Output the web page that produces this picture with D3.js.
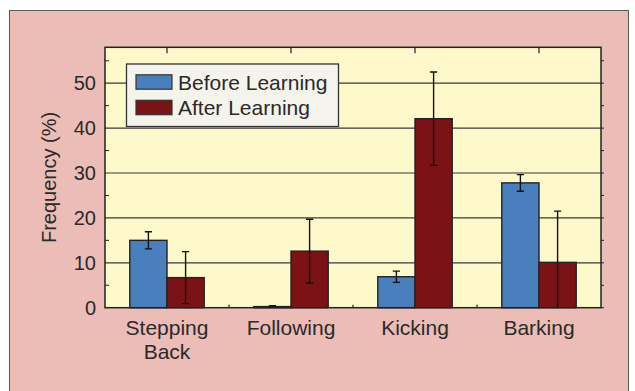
<!DOCTYPE html>
<html>
<head>
<meta charset="utf-8">
<script src="https://cdn.jsdelivr.net/npm/d3@7"></script>
<style>
  html, body { margin: 0; padding: 0; background: #ffffff; }
  svg { display: block; font-family: "Liberation Sans", Arial, Helvetica, sans-serif; }
</style>
</head>
<body>
<svg id="chart" width="635" height="391"></svg>
<script>
// Behaviour categories (label lines) and the two learning conditions
const categories = ["Stepping Back", "Following", "Kicking", "Barking"];
const categoryLines = [["Stepping", "Back"], ["Following"], ["Kicking"], ["Barking"]];
const seriesNames = ["Before Learning", "After Learning"];
const seriesColors = ["#4a7fbd", "#7b1316"];

// Frequency (%) with error half-widths
const beforeValues = [15.0, 0.25, 6.9, 27.8];
const beforeErrors = [1.9, 0.2, 1.25, 1.85];
const afterValues = [6.7, 12.6, 42.1, 10.1];
const afterErrors = [5.8, 7.1, 10.4, 11.4];

const yTicks = [0, 10, 20, 30, 40, 50];
const yMinorTicks = [5, 15, 25, 35, 45, 55];

const svg = d3.select("#chart");

// Outer panel
svg.append("rect")
  .attr("x", 9.5).attr("y", 10.5)
  .attr("width", 619).attr("height", 400)
  .attr("fill", "#ecbdb7")
  .attr("stroke", "#5a5a5a").attr("stroke-width", 1);

const plot = { left: 105, right: 601, top: 47.3, bottom: 307.7 };

const x = d3.scaleBand().domain(categories).range([plot.left, plot.right]).padding(0);
const y = d3.scaleLinear().domain([0, 58]).range([plot.bottom, plot.top]);
const barW = x.bandwidth() * 0.3;

// Plot background
svg.append("rect")
  .attr("x", plot.left).attr("y", plot.top)
  .attr("width", plot.right - plot.left).attr("height", plot.bottom - plot.top)
  .attr("fill", "#fef9cb");

// Horizontal gridlines
svg.append("g").selectAll("line")
  .data(yTicks.filter(d => d > 0))
  .join("line")
  .attr("x1", plot.left).attr("x2", plot.right)
  .attr("y1", d => y(d)).attr("y2", d => y(d))
  .attr("stroke", "#3a3a3a").attr("stroke-width", 1.2);

// Clip for the error bars
svg.append("clipPath").attr("id", "plotClip")
  .append("rect")
  .attr("x", plot.left).attr("y", plot.top)
  .attr("width", plot.right - plot.left).attr("height", plot.bottom - plot.top);

const series = [
  { values: beforeValues, errors: beforeErrors, offset: -1, color: seriesColors[0] },
  { values: afterValues, errors: afterErrors, offset: 0, color: seriesColors[1] }
];

const bars = svg.append("g");
series.forEach(s => {
  const rows = categories.map((c, i) => ({ c, v: s.values[i], e: s.errors[i] }));
  const cx = d => x(d.c) + x.bandwidth() / 2 + s.offset * barW;
  bars.append("g").selectAll("rect")
    .data(rows)
    .join("rect")
    .attr("x", d => cx(d))
    .attr("y", d => y(d.v))
    .attr("width", barW)
    .attr("height", d => y(0) - y(d.v))
    .attr("fill", s.color)
    .attr("stroke", "#222").attr("stroke-width", 1.4);

  const eb = bars.append("g").attr("clip-path", "url(#plotClip)");
  const mid = d => cx(d) + barW / 2;
  eb.selectAll("line.stem")
    .data(rows).join("line").attr("class", "stem")
    .attr("x1", mid).attr("x2", mid)
    .attr("y1", d => y(d.v + d.e)).attr("y2", d => y(d.v - d.e))
    .attr("stroke", "#111").attr("stroke-width", 1.4);
  eb.selectAll("line.capTop")
    .data(rows).join("line").attr("class", "capTop")
    .attr("x1", d => mid(d) - 3.6).attr("x2", d => mid(d) + 3.6)
    .attr("y1", d => y(d.v + d.e)).attr("y2", d => y(d.v + d.e))
    .attr("stroke", "#111").attr("stroke-width", 1.4);
  eb.selectAll("line.capBot")
    .data(rows.filter(d => d.v - d.e >= 0)).join("line").attr("class", "capBot")
    .attr("x1", d => mid(d) - 3.6).attr("x2", d => mid(d) + 3.6)
    .attr("y1", d => y(d.v - d.e)).attr("y2", d => y(d.v - d.e))
    .attr("stroke", "#111").attr("stroke-width", 1.4);
});

// Frame around plot area
svg.append("rect")
  .attr("x", plot.left).attr("y", plot.top)
  .attr("width", plot.right - plot.left).attr("height", plot.bottom - plot.top)
  .attr("fill", "none").attr("stroke", "#222").attr("stroke-width", 1.5);

// Left axis: labels, inward minor ticks
const left = svg.append("g");
left.selectAll("text")
  .data(yTicks).join("text")
  .attr("x", plot.left - 9).attr("y", d => y(d))
  .attr("dy", "0.36em")
  .attr("text-anchor", "end")
  .attr("font-size", 20).attr("fill", "#2a2a2a")
  .text(d => d);
left.selectAll("line.minor")
  .data(yMinorTicks).join("line").attr("class", "minor")
  .attr("x1", plot.left).attr("x2", plot.left + 4)
  .attr("y1", d => y(d)).attr("y2", d => y(d))
  .attr("stroke", "#222").attr("stroke-width", 1);

// Right axis: outward ticks every 5
svg.append("g").selectAll("line")
  .data(yTicks.concat(yMinorTicks)).join("line")
  .attr("x1", plot.right).attr("x2", plot.right + 3)
  .attr("y1", d => y(d)).attr("y2", d => y(d))
  .attr("stroke", "#222").attr("stroke-width", 1);

// Top ticks at category centres, bottom ticks at boundaries
svg.append("g").selectAll("line")
  .data(categories).join("line")
  .attr("x1", d => x(d) + x.bandwidth() / 2).attr("x2", d => x(d) + x.bandwidth() / 2)
  .attr("y1", plot.top).attr("y2", plot.top + 6)
  .attr("stroke", "#222").attr("stroke-width", 1.2);
svg.append("g").selectAll("line")
  .data(categories.slice(1)).join("line")
  .attr("x1", d => x(d)).attr("x2", d => x(d))
  .attr("y1", plot.bottom).attr("y2", plot.bottom - 3)
  .attr("stroke", "#222").attr("stroke-width", 1.2);

// Category labels
const catG = svg.append("g");
categories.forEach((c, i) => {
  const t = catG.append("text")
    .attr("x", x(c) + x.bandwidth() / 2)
    .attr("y", 334.5)
    .attr("text-anchor", "middle")
    .attr("font-size", 21).attr("fill", "#2a2a2a");
  categoryLines[i].forEach((line, j) => {
    t.append("tspan")
      .attr("x", x(c) + x.bandwidth() / 2)
      .attr("dy", j === 0 ? 0 : 24.6)
      .text(line);
  });
});

// Y axis title
svg.append("text")
  .attr("transform", `translate(56,${(plot.top + plot.bottom) / 2}) rotate(-90)`)
  .attr("text-anchor", "middle")
  .attr("font-size", 20).attr("fill", "#2a2a2a")
  .text("Frequency (%)");

// Legend
const legend = svg.append("g");
legend.append("rect")
  .attr("x", 126.5).attr("y", 64)
  .attr("width", 212).attr("height", 62.5)
  .attr("fill", "#f5f4ec").attr("stroke", "#333").attr("stroke-width", 1.3);
seriesNames.forEach((name, i) => {
  const cy = 82 + i * 25.5;
  legend.append("rect")
    .attr("x", 136).attr("y", cy - 7.2)
    .attr("width", 36).attr("height", 14.4)
    .attr("fill", seriesColors[i]).attr("stroke", "#333").attr("stroke-width", 1.2);
  legend.append("text")
    .attr("x", 178).attr("y", cy)
    .attr("dy", "0.36em")
    .attr("font-size", 21).attr("fill", "#2a2a2a")
    .text(name);
});
</script>
</body>
</html>
